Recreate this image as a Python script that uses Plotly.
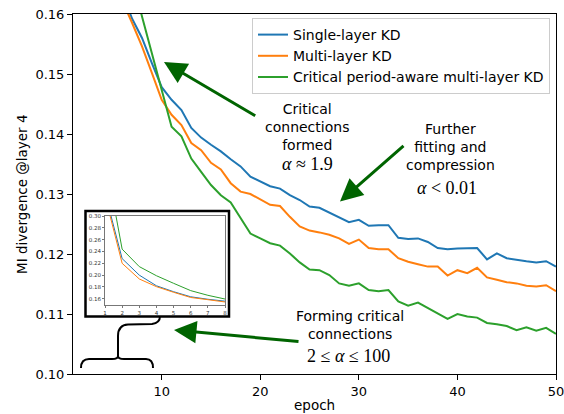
import plotly.graph_objects as go

epochs = list(range(1, 51))
single_layer = [0.339, 0.228, 0.200, 0.182, 0.172, 0.1634, 0.1592, 0.1560, 0.1518, 0.1478,
                0.1457, 0.1440, 0.1410, 0.1394, 0.1382, 0.1371, 0.1358, 0.1346, 0.1329, 0.1321,
                0.1313, 0.1309, 0.1298, 0.1290, 0.1279, 0.1277, 0.1269, 0.1262, 0.1253, 0.1257,
                0.1247, 0.1248, 0.1248, 0.1227, 0.1225, 0.1226, 0.1220, 0.1210, 0.1208, 0.1209,
                0.1209, 0.1210, 0.1191, 0.1201, 0.1193, 0.1190, 0.1188, 0.1186, 0.1188, 0.1179]
multi_layer = [0.334, 0.220, 0.1935, 0.1805, 0.171, 0.1622, 0.1585, 0.1546, 0.1502, 0.1457,
               0.1432, 0.1415, 0.1385, 0.1373, 0.1352, 0.1341, 0.1318, 0.1304, 0.1300, 0.1291,
               0.1282, 0.1280, 0.1262, 0.1246, 0.1239, 0.1236, 0.1232, 0.1226, 0.1217, 0.1224,
               0.1210, 0.1208, 0.1208, 0.1193, 0.1187, 0.1183, 0.1179, 0.1179, 0.1164, 0.1173,
               0.1168, 0.1177, 0.1161, 0.1157, 0.1153, 0.1151, 0.1147, 0.1146, 0.1148, 0.1138]
critical_aware = [0.40, 0.244, 0.2144, 0.199, 0.1862, 0.1738, 0.1659, 0.1596, 0.1534, 0.1473,
                  0.1412, 0.1396, 0.1359, 0.1337, 0.1315, 0.1298, 0.1286, 0.1260, 0.1234, 0.1226,
                  0.1218, 0.1214, 0.1201, 0.1186, 0.1174, 0.1173, 0.1165, 0.1151, 0.1147, 0.1151,
                  0.1140, 0.1138, 0.1140, 0.1121, 0.1114, 0.1119, 0.1110, 0.1101, 0.1092, 0.1100,
                  0.1096, 0.1094, 0.1085, 0.1083, 0.1080, 0.1073, 0.1078, 0.1072, 0.1077, 0.1067]
series_names = ["Single-layer KD", "Multi-layer KD", "Critical period-aware multi-layer KD"]
series_colors = ["#1f77b4", "#ff7f0e", "#2ca02c"]
inset_epochs = 8
main_yticks = [0.10, 0.11, 0.12, 0.13, 0.14, 0.15, 0.16]
main_xticks = [10, 20, 30, 40, 50]
inset_yticks = [0.16, 0.18, 0.20, 0.22, 0.24, 0.26, 0.28, 0.30]
inset_xticks = [1, 2, 3, 4, 5, 6, 7, 8]

W, H = 564, 414
L, R, T, B = 73, 8, 14, 40
PW, PH = W - L - R, H - T - B
XR = (1, 50)
YR = (0.10, 0.16)


def ex(px):
    return XR[0] + (px - L) * (XR[1] - XR[0]) / PW


def vy(py):
    return YR[1] - (py - T) * (YR[1] - YR[0]) / PH


def pxp(px):
    return (px - L) / PW


def pyp(py):
    return (H - B - py) / PH


fig = go.Figure()
all_series = [single_layer, multi_layer, critical_aware]
for name, vals, col in zip(series_names, all_series, series_colors):
    fig.add_trace(go.Scatter(x=epochs, y=vals, mode="lines", name=name,
                             line=dict(color=col, width=2), xaxis="x", yaxis="y"))
for name, vals, col in zip(series_names, all_series, series_colors):
    fig.add_trace(go.Scatter(x=epochs[:inset_epochs], y=vals[:inset_epochs], mode="lines",
                             name=name, showlegend=False,
                             line=dict(color=col, width=1), xaxis="x2", yaxis="y2"))

font_sans = "DejaVu Sans"
font_serif = "Liberation Serif"
green_dark = "#006400"

annotations = []


def txt(text, px, py, size=14, family=font_sans, angle=0):
    annotations.append(dict(x=pxp(px), y=pyp(py), xref="paper", yref="paper", text=text,
                            showarrow=False, xanchor="center", yanchor="middle",
                            textangle=angle,
                            font=dict(family=family, size=size, color="black")))


txt("Critical<br>connections<br>formed", 307, 127)
txt("<i>α</i> ≈ 1.9", 307, 164, size=18, family=font_serif)
txt("Further<br>fitting and<br>compression", 450.5, 146.5)
txt("<i>α</i> &lt; 0.01", 447, 188, size=18, family=font_serif)
txt("Forming critical<br>connections", 350, 325)
txt("2 ≤ <i>α</i> ≤ 100", 348.5, 355.5, size=18, family=font_serif)
# axis titles
txt("MI divergence @layer 4", 22, 194, size=13.5, angle=-90)
txt("epoch", 314.5, 405, size=13.5)


def arrow(tail, head):
    annotations.append(dict(x=ex(head[0]), y=vy(head[1]), ax=ex(tail[0]), ay=vy(tail[1]),
                            xref="x", yref="y", axref="x", ayref="y", text="",
                            showarrow=True, arrowhead=2, arrowsize=1.5, arrowwidth=3,
                            arrowcolor=green_dark))


arrow((256.7, 116.7), (164, 62))
arrow((405, 144.5), (340, 201.5))
arrow((300, 341.7), (174, 330))

shapes = []
shapes.append(dict(type="rect", xref="paper", yref="paper",
                   x0=pxp(85.5), x1=pxp(229), y0=pyp(316.5), y1=pyp(211),
                   line=dict(color="black", width=2.5), fillcolor="white", layer="below"))


def P(px, py):
    return f"{ex(px)},{vy(py)}"


brace_paths = [
    f"M {P(81,368)} Q {P(81,359)} {P(89,359)} L {P(112,359)} Q {P(118,359)} {P(118,356)}",
    f"M {P(118,356)} Q {P(118,359)} {P(124,359)} L {P(146,359)} Q {P(153,359)} {P(153,368)}",
    f"M {P(118,356)} L {P(118,336)} Q {P(118,325)} {P(128,324.5)} L {P(152,324)} Q {P(160,323)} {P(160,316)}",
]
for p in brace_paths:
    shapes.append(dict(type="path", xref="x", yref="y", path=p,
                       line=dict(color="black", width=2)))

fig.update_layout(
    width=W, height=H,
    margin=dict(l=L, r=R, t=T, b=B, autoexpand=False),
    paper_bgcolor="white", plot_bgcolor="white",
    font=dict(family=font_sans, size=13, color="black"),
    showlegend=True,
    legend=dict(x=pxp(252), y=pyp(18), xanchor="left", yanchor="top",
                bgcolor="rgba(255,255,255,0.8)", bordercolor="#cccccc", borderwidth=1,
                font=dict(family=font_sans, size=14, color="black")),
    xaxis=dict(range=list(XR), tickvals=main_xticks, showgrid=False, zeroline=False,
               showline=True, linecolor="black", linewidth=1, mirror=True,
               ticks="outside", ticklen=5, tickcolor="black", automargin=False,
               ticklabeloverflow="allow", tickfont=dict(size=13), domain=[0, 1]),
    yaxis=dict(range=list(YR), tickvals=main_yticks, tickformat=".2f", showgrid=False,
               zeroline=False, showline=True, linecolor="black", linewidth=1, mirror=True,
               ticks="outside", ticklen=5, tickcolor="black", automargin=False,
               ticklabeloverflow="allow", tickfont=dict(size=13), domain=[0, 1]),
    xaxis2=dict(domain=[pxp(105), pxp(225)], anchor="y2", range=[1, 8], tickvals=inset_xticks,
                showgrid=False, zeroline=False, showline=True, linecolor="#777777", linewidth=1,
                mirror=True, ticks="outside", ticklen=2, tickcolor="#777777", automargin=False,
                tickfont=dict(size=5.5, color="#333333")),
    yaxis2=dict(domain=[pyp(305), pyp(216)], anchor="x2", range=[0.1495, 0.30],
                tickvals=inset_yticks, tickformat=".2f",
                showgrid=False, zeroline=False, showline=True, linecolor="#777777", linewidth=1,
                mirror=True, ticks="outside", ticklen=2, tickcolor="#777777", automargin=False,
                tickfont=dict(size=5.5, color="#333333")),
    annotations=annotations,
    shapes=shapes,
)

fig.write_html("out.html", config={"displayModeBar": False},
               post_script="document.body.style.margin='0';document.body.style.overflow='hidden';")
